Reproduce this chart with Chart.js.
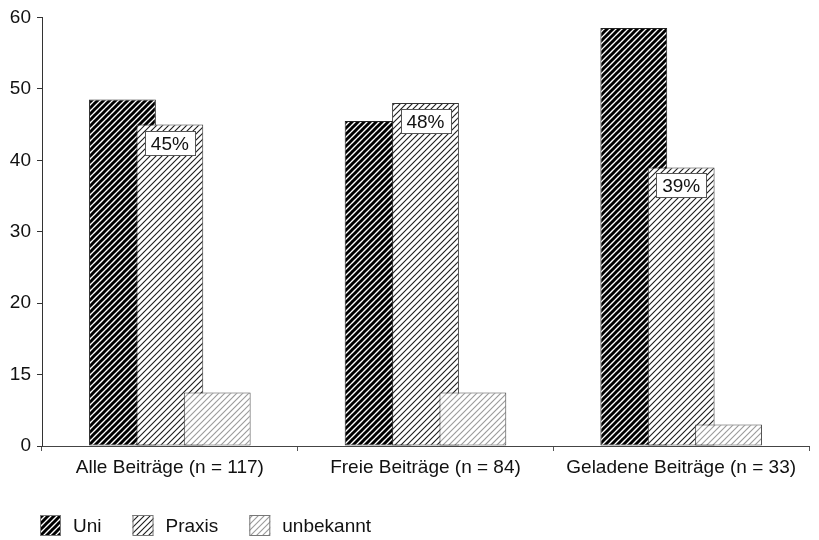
<!DOCTYPE html>
<html>
<head>
<meta charset="utf-8">
<script src="https://cdn.jsdelivr.net/npm/chart.js@4"></script>
<style>
  html, body { margin: 0; padding: 0; background: #ffffff; }
  #wrap { width: 819px; height: 540px; }
</style>
</head>
<body>
<div id="wrap"><canvas id="graphCanvas"></canvas></div>
<script>
var kategorien = ['Alle Beiträge (n = 117)', 'Freie Beiträge (n = 84)', 'Geladene Beiträge (n = 33)'];
var uni = [48.5, 45.5, 58.5];
var praxis = [45, 48, 39];
var unbekannt = [7.5, 7.5, 3];
var yTickLabels = ['0', '15', '20', '30', '40', '50', '60'];

var schrift = "'Liberation Sans', Arial, Helvetica, sans-serif";

// diagonal hatching "/" as a canvas pattern
function schraffur(farbe, breite, abstand) {
    var c = document.createElement('canvas');
    c.width = abstand;
    c.height = abstand;
    var ctx = c.getContext('2d');
    ctx.fillStyle = '#ffffff';
    ctx.fillRect(0, 0, abstand, abstand);
    ctx.strokeStyle = farbe;
    ctx.lineWidth = breite;
    ctx.lineCap = 'square';
    [-abstand, 0, abstand].forEach(function (o) {
        ctx.beginPath();
        ctx.moveTo(o - 1, abstand + 1);
        ctx.lineTo(o + abstand + 1, -1);
        ctx.stroke();
    });
    return ctx.createPattern(c, 'repeat');
}

var musterUni = schraffur('#000000', 3, 6);
var musterPraxis = schraffur('#1a1a1a', 1.1, 6);
var musterUnbekannt = schraffur('#9a9a9a', 1.1, 6);

// bars overlap, later datasets have to lie on top
var reihenfolge = {
    id: 'reihenfolge',
    beforeDatasetsDraw: function (chart) {
        chart.data.datasets.forEach(function (ds, i) {
            chart.getDatasetMeta(i).controller.draw();
        });
        return false;
    }
};

// percentage boxes inside the Praxis bars
var prozentBoxen = {
    id: 'prozentBoxen',
    afterDraw: function (chart) {
        var ctx = chart.ctx;
        var meta = chart.getDatasetMeta(1);
        ctx.save();
        ctx.font = '19px ' + schrift;
        ctx.textAlign = 'center';
        ctx.textBaseline = 'middle';
        meta.data.forEach(function (bar, i) {
            var w = 50, h = 24;
            var x = Math.round(bar.x - w / 2) + 0.5;
            var y = Math.round(bar.y + 6) + 0.5;
            ctx.fillStyle = '#ffffff';
            ctx.fillRect(x, y, w, h);
            ctx.strokeStyle = '#555555';
            ctx.lineWidth = 1;
            ctx.strokeRect(x, y, w, h);
            ctx.fillStyle = '#111111';
            ctx.fillText(praxis[i] + '%', bar.x, y + h / 2 + 1);
        });
        ctx.restore();
    }
};

// legend with hatched swatches below the axis labels
var legende = {
    id: 'legende',
    afterDraw: function (chart) {
        var ctx = chart.ctx;
        ctx.save();
        ctx.font = '19px ' + schrift;
        ctx.textBaseline = 'middle';
        ctx.textAlign = 'left';
        var x = 40, y = 515, box = 21;
        chart.data.datasets.forEach(function (ds) {
            ctx.fillStyle = ds.backgroundColor;
            ctx.fillRect(x, y, box, box);
            ctx.strokeStyle = '#777777';
            ctx.lineWidth = 1;
            ctx.strokeRect(x + 0.5, y + 0.5, box - 1, box - 1);
            ctx.fillStyle = '#111111';
            var tx = x + box + 12;
            ctx.fillText(ds.label, tx, y + box / 2 + 1);
            x = tx + ctx.measureText(ds.label).width + 31;
        });
        ctx.restore();
    }
};

var chartdata = {
    labels: kategorien,
    datasets: [{
        label: 'Uni',
        data: uni,
        backgroundColor: musterUni,
        borderColor: '#222222'
    }, {
        label: 'Praxis',
        data: praxis,
        backgroundColor: musterPraxis,
        borderColor: '#333333'
    }, {
        label: 'unbekannt',
        data: unbekannt,
        backgroundColor: musterUnbekannt,
        borderColor: '#444444'
    }]
};

var graphTarget = document.getElementById('graphCanvas');

var barGraph = new Chart(graphTarget, {
    type: 'bar',
    data: chartdata,
    plugins: [reihenfolge, prozentBoxen, legende],
    options: {
        responsive: true,
        maintainAspectRatio: false,
        animation: false,
        categoryPercentage: 0.556,
        barPercentage: 1.41,
        datasets: {
            bar: {
                borderWidth: 1,
                borderSkipped: false
            }
        },
        layout: {
            padding: { top: 16, right: 10, bottom: 30, left: 0 }
        },
        plugins: {
            legend: {
                display: false
            },
            tooltip: {
                enabled: false
            }
        },
        scales: {
            x: {
                afterFit: function (scale) { scale.height = 64; },
                grid: {
                    offset: true,
                    drawOnChartArea: false,
                    tickLength: 5,
                    color: '#555555'
                },
                border: { display: true, color: '#444444', width: 1 },
                ticks: {
                    padding: 5,
                    color: '#111111',
                    font: { family: schrift, size: 19 },
                    maxRotation: 0
                }
            },
            y: {
                min: 0,
                max: 60,
                afterFit: function (scale) { scale.width = 42; },
                grid: {
                    drawOnChartArea: false,
                    tickLength: 5,
                    color: '#333333'
                },
                border: { display: true, color: '#333333', width: 1 },
                ticks: {
                    stepSize: 10,
                    padding: 6,
                    color: '#111111',
                    font: { family: schrift, size: 19 },
                    callback: function (value, index) {
                        return yTickLabels[index];
                    }
                }
            }
        }
    }
});
</script>
</body>
</html>
